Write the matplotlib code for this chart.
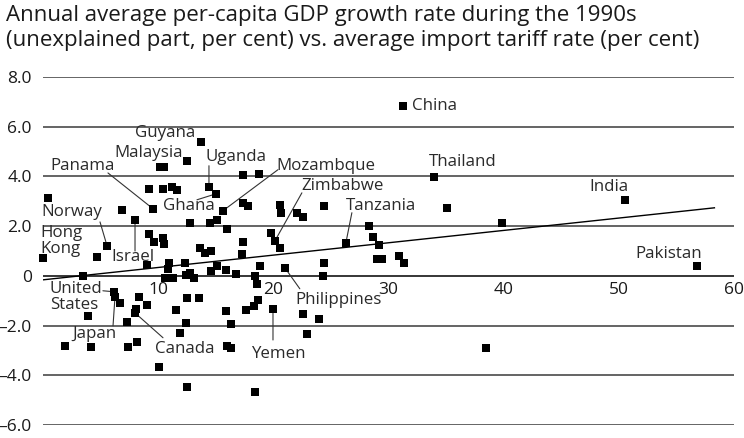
import matplotlib
matplotlib.use("Agg")
import matplotlib.pyplot as plt

plt.rcParams["font.family"] = ["Open Sans", "DejaVu Sans"]

# average import tariff rate (per cent)
tariff = [
    0.0, 0.43, 4.69, 5.56, 6.86, 7.99, 9.20, 9.55, 10.16, 10.50,
    10.42, 11.20, 11.63, 12.50, 13.72, 14.41, 15.02, 15.63, 15.97, 12.76,
    14.50, 15.10, 17.36, 18.75, 17.36, 17.80, 20.57, 20.66, 22.05, 22.57,
    24.39, 19.79, 20.14, 20.57, 17.36, 17.27, 9.20, 9.64, 10.42, 10.50,
    13.63, 14.06, 14.58, 9.03, 10.94, 10.85, 12.33, 10.59, 11.28, 12.41,
    12.76, 13.11, 14.58, 15.10, 15.89, 16.75, 18.84, 18.40, 18.58, 21.01,
    24.39, 24.31, 3.47, 6.16, 6.25, 6.68, 3.91, 1.91, 4.17, 7.29,
    7.38, 8.16, 8.33, 9.03, 8.07, 7.99, 10.07, 11.55, 12.50, 13.54,
    12.41, 11.89, 12.50, 15.89, 16.32, 15.97, 16.32, 17.62, 18.66, 18.32,
    19.97, 22.57, 23.96, 22.92, 18.40, 38.45, 31.25, 33.94, 35.07, 26.30,
    28.30, 28.65, 29.17, 28.99, 29.43, 30.90, 31.34, 39.84, 50.52, 56.77,
]
# per-capita GDP growth, unexplained part (per cent)
growth = [
    0.72, 3.14, 0.76, 1.21, 2.66, 2.25, 3.50, 2.70, 4.39, 4.39,
    3.50, 3.58, 3.46, 4.63, 5.39, 3.58, 3.30, 2.62, 1.89, 2.13,
    2.13, 2.25, 4.06, 4.10, 2.94, 2.82, 2.86, 2.54, 2.54, 2.37,
    2.82, 1.73, 1.41, 1.13, 1.37, 0.89, 1.69, 1.37, 1.53, 1.29,
    1.13, 0.93, 1.01, 0.44, 0.52, 0.28, 0.52, -0.08, -0.08, 0.04,
    0.12, -0.08, 0.20, 0.40, 0.24, 0.08, 0.40, 0.0, -0.32, 0.32,
    0.52, 0.0, 0.0, -0.64, -0.85, -1.09, -1.61, -2.82, -2.86, -1.85,
    -2.86, -2.66, -0.85, -1.17, -1.33, -1.49, -3.66, -1.37, -0.89, -0.89,
    -1.89, -2.29, -4.47, -1.41, -1.93, -2.82, -2.90, -1.37, -0.97, -1.21,
    -1.33, -1.53, -1.73, -2.33, -4.67, -2.90, 6.84, 3.98, 2.74, 1.33,
    2.01, 1.57, 1.25, 0.68, 0.68, 0.80, 0.52, 2.13, 3.06, 0.40,
]

# trend line
trend_x = [0.0, 58.3]
trend_intercept = -0.16
trend_slope = 0.0497

# labelled countries: name, point, text position, alignment, leader start (or None)
labels = [
    ("China", (31.25, 6.84), (32.0, 6.84), "left", None),
    ("Thailand", (33.94, 3.98), (33.5, 4.59), "left", None),
    ("India", (50.52, 3.06), (49.1, 3.58), "center", None),
    ("Pakistan", (56.77, 0.40), (54.3, 0.89), "center", None),
    ("Guyana", (13.72, 5.39), (13.2, 5.75), "right", None),
    ("Malaysia", (12.50, 4.63), (12.15, 4.95), "right", None),
    ("Panama", (9.55, 2.70), (0.6, 4.43), "left", (5.64, 4.14)),
    ("Uganda", (14.41, 3.58), (14.15, 4.79), "left", (14.41, 4.43)),
    ("Ghana", (15.02, 3.30), (10.4, 2.82), "left", (13.37, 3.06)),
    ("Mozambque", (15.63, 2.62), (20.3, 4.43), "left", (20.4, 4.27)),
    ("Zimbabwe", (20.14, 1.41), (22.4, 3.62), "left", (22.48, 3.34)),
    ("Tanzania", (26.30, 1.33), (26.3, 2.82), "left", (26.82, 2.54)),
    ("Norway", (5.56, 1.21), (-0.17, 2.58), "left", (4.95, 2.17)),
    ("Hong\nKong", (0.0, 0.72), (-0.26, 1.41), "left", None),
    ("Israel", (7.99, 2.25), (7.8, 0.76), "center", (7.99, 1.0)),
    ("United\nStates", (6.16, -0.64), (0.6, -0.85), "left", (5.2, -0.6)),
    ("Japan", (6.25, -0.85), (4.5, -2.33), "center", (6.08, -2.01)),
    ("Canada", (7.99, -1.49), (9.72, -2.94), "left", (10.42, -2.49)),
    ("Yemen", (19.97, -1.33), (20.4, -3.14), "center", (19.97, -2.58)),
    ("Philippines", (21.01, 0.32), (21.9, -0.97), "left", (22.3, -0.52)),
]

y_ticks = [8, 6, 4, 2, 0, -2, -4, -6]
y_tick_labels = ["8.0", "6.0", "4.0", "2.0", "0", "–2.0", "–4.0", "–6.0"]
x_ticks = [10, 20, 30, 40, 50, 60]

title = ("Annual average per-capita GDP growth rate during the 1990s\n"
         "(unexplained part, per cent) vs. average import tariff rate (per cent)")

fig = plt.figure(figsize=(7.44, 4.38), dpi=100)
ax = fig.add_axes([43 / 744, 1 - 425 / 438, 691 / 744, 348 / 438])
ax.set_xlim(0, 60)
ax.set_ylim(-6, 8)
for s in ax.spines.values():
    s.set_visible(False)

for yv in y_ticks:
    ax.axhline(yv, color="#000000" if yv == 0 else "#3a3a3a", lw=1.1, zorder=1)

ax.set_yticks(y_ticks)
ax.set_yticklabels(y_tick_labels)
ax.set_xticks([])
ax.tick_params(axis="y", length=0, pad=8, labelsize=12.5, colors="#1a1a1a")

for xv in x_ticks:
    ax.text(xv, -0.57, str(xv), ha="center", va="center", fontsize=12.5, color="#1a1a1a")

tx = trend_x
ty = [trend_intercept + trend_slope * v for v in tx]
ax.plot(tx, ty, color="black", lw=1, zorder=2)

ax.scatter(tariff, growth, marker="s", s=28, color="black", lw=0, zorder=3, clip_on=False)

for name, pt, txt, ha, start in labels:
    ax.text(txt[0], txt[1], name, ha=ha, va="center", fontsize=12.2, color="#2a2a2a",
            linespacing=0.95, zorder=4)
    if start is not None:
        ax.annotate("", xy=pt, xytext=start, textcoords="data",
                    arrowprops=dict(arrowstyle="-", color="#333333", lw=0.8,
                                    shrinkA=0, shrinkB=3), zorder=2)

fig.text(6 / 744, 1 - 5 / 438, title, ha="left", va="top", fontsize=16, color="#1a1a1a",
         linespacing=1.25)

fig.savefig("out.png", dpi=100)
